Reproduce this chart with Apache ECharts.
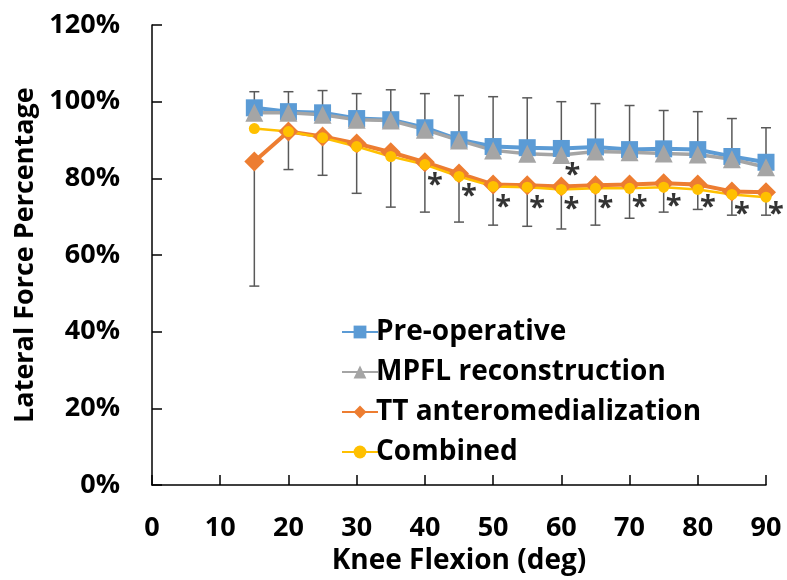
<!DOCTYPE html>
<html>
<head>
<meta charset="utf-8">
<script src="https://cdn.jsdelivr.net/npm/echarts@6/dist/echarts.min.js"></script>
<style>
html, body { margin: 0; background: #fff; }
#chart { width: 787px; height: 580px; }
</style>
</head>
<body>
<div id="chart"></div>
<script>
var angles = [15, 20, 25, 30, 35, 40, 45, 50, 55, 60, 65, 70, 75, 80, 85, 90];
var preOp = [98.4, 97.4, 97.1, 95.6, 95.3, 93.2, 90.1, 88.3, 88.0, 87.8, 88.2, 87.5, 87.7, 87.5, 85.7, 84.2];
var mpfl = [97.1, 97.1, 96.6, 95.3, 95.1, 92.7, 89.9, 87.3, 86.4, 86.1, 87.0, 86.8, 86.5, 86.2, 85.0, 82.9];
var ttam = [84.4, 92.2, 90.9, 89.1, 86.8, 84.2, 81.3, 78.4, 78.2, 77.9, 78.2, 78.4, 78.7, 78.4, 76.6, 76.4];
var combined = [93.0, 92.2, 90.6, 88.3, 85.7, 83.6, 80.5, 77.9, 77.7, 77.1, 77.4, 77.4, 77.7, 77.1, 75.8, 75.1];
// error bar ends: upper on pre-operative, lower on TT anteromedialization
var upperEnd = [102.6, 102.6, 102.9, 102.1, 103.1, 102.1, 101.6, 101.3, 101.0, 100.0, 99.5, 99.0, 97.7, 97.4, 95.6, 93.2];
var lowerEnd = [51.9, 82.3, 80.8, 76.1, 72.5, 71.2, 68.6, 67.8, 67.5, 66.8, 67.8, 69.6, 71.2, 71.9, 70.4, 70.4];
// significance marks
var sigLower = [40, 45, 50, 55, 60, 65, 70, 75, 80, 85, 90];
var sigUpper = [60];
var yTicks = [0, 20, 40, 60, 80, 100, 120];

var chart = echarts.init(document.getElementById('chart'));
var font = 'Open Sans';

function pairs(ys) {
    return angles.map(function (a, i) { return [a, ys[i]]; });
}

function errorBars(fromVals, toVals) {
    return {
        type: 'custom',
        silent: true,
        z: 1,
        renderItem: function (params, api) {
            var p0 = api.coord([api.value(0), api.value(1)]);
            var p1 = api.coord([api.value(0), api.value(2)]);
            var st = { stroke: '#595959', lineWidth: 1.5 };
            return {
                type: 'group',
                children: [
                    { type: 'line', shape: { x1: p0[0], y1: p0[1], x2: p1[0], y2: p1[1] }, style: st },
                    { type: 'line', shape: { x1: p1[0] - 5, y1: p1[1], x2: p1[0] + 5, y2: p1[1] }, style: st }
                ]
            };
        },
        encode: { x: 0, y: [1, 2] },
        data: angles.map(function (a, i) { return [a, fromVals[i], toVals[i]]; })
    };
}

function stars(xs, base, offset) {
    return {
        type: 'scatter',
        silent: true,
        z: 6,
        symbolSize: 1,
        itemStyle: { color: 'rgba(0,0,0,0)' },
        label: {
            show: true,
            formatter: '*',
            position: 'inside',
            offset: offset,
            color: '#000',
            fontFamily: font,
            fontWeight: 'bold',
            fontSize: 29
        },
        data: xs.map(function (x) { return [x, base[angles.indexOf(x)]]; })
    };
}

option = {
    animation: false,
    grid: {
        left: 152,
        right: 21,
        top: 25,
        bottom: 93
    },
    legend: {
        orient: 'vertical',
        left: 336,
        top: 313,
        itemWidth: 36,
        itemHeight: 16,
        itemGap: 12,
        textStyle: {
            color: '#000',
            fontFamily: font,
            fontWeight: 'bold',
            fontSize: 28,
            padding: [0, 0, 0, -7]
        },
        data: ['Pre-operative', 'MPFL reconstruction', 'TT anteromedialization', 'Combined']
    },
    xAxis: {
        type: 'value',
        min: 0,
        max: 90,
        interval: 10,
        name: 'Knee Flexion (deg)',
        nameLocation: 'middle',
        nameGap: 59,
        nameTextStyle: { color: '#000', fontFamily: font, fontWeight: 'bold', fontSize: 28 },
        axisLine: { lineStyle: { color: '#000', width: 1.5 } },
        axisTick: { inside: true, length: 10, lineStyle: { color: '#000', width: 1.5 } },
        axisLabel: { color: '#000', fontFamily: font, fontWeight: 'bold', fontSize: 27, margin: 30 },
        splitLine: { show: false }
    },
    yAxis: {
        type: 'value',
        min: yTicks[0],
        max: yTicks[yTicks.length - 1],
        interval: 20,
        name: 'Lateral Force Percentage',
        nameLocation: 'middle',
        nameGap: 111,
        nameTextStyle: { color: '#000', fontFamily: font, fontWeight: 'bold', fontSize: 27 },
        axisLine: { show: true, lineStyle: { color: '#000', width: 1.5 } },
        axisTick: { show: true, inside: true, length: 10, lineStyle: { color: '#000', width: 1.5 } },
        axisLabel: { color: '#000', fontFamily: font, fontWeight: 'bold', fontSize: 27, margin: 32, formatter: '{value}%' },
        splitLine: { show: false }
    },
    series: [
        errorBars(preOp, upperEnd),
        errorBars(ttam, lowerEnd),
        {
            name: 'Pre-operative',
            type: 'line',
            symbol: 'rect',
            symbolSize: 17,
            lineStyle: { color: '#5B9BD5', width: 4 },
            itemStyle: { color: '#5B9BD5' },
            data: pairs(preOp)
        },
        {
            name: 'MPFL reconstruction',
            type: 'line',
            symbol: 'triangle',
            symbolSize: 18,
            lineStyle: { color: '#A5A5A5', width: 3.5 },
            itemStyle: { color: '#A5A5A5' },
            data: pairs(mpfl)
        },
        {
            name: 'TT anteromedialization',
            type: 'line',
            symbol: 'diamond',
            symbolSize: 20,
            lineStyle: { color: '#ED7D31', width: 4 },
            itemStyle: { color: '#ED7D31' },
            data: pairs(ttam)
        },
        {
            name: 'Combined',
            type: 'line',
            symbol: 'circle',
            symbolSize: 11,
            lineStyle: { color: '#FFC000', width: 2.5 },
            itemStyle: { color: '#FFC000' },
            data: pairs(combined)
        },
        stars(sigLower, ttam, [10, 23]),
        stars(sigUpper, mpfl, [11, 21])
    ]
};

chart.setOption(option);
</script>
</body>
</html>
